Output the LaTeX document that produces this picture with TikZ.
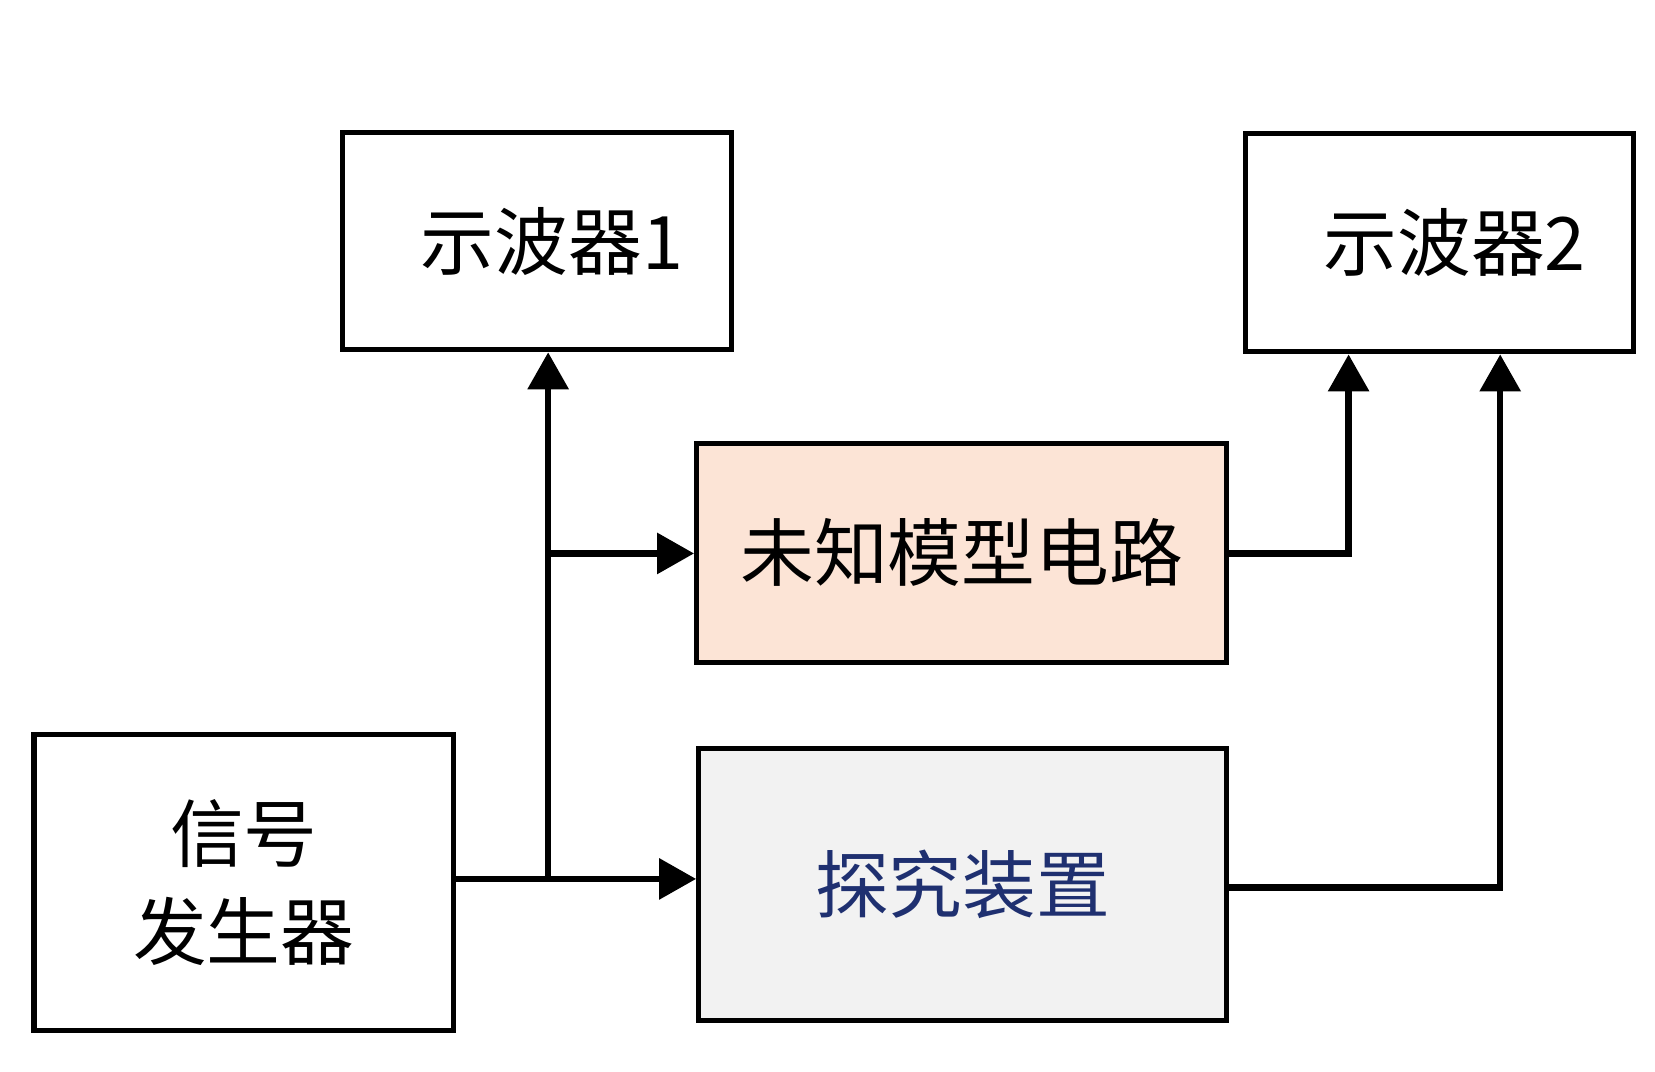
\documentclass[tikz,border=0pt]{standalone}
\usepackage{fontspec}
\newfontfamily\cjk{Noto Sans CJK SC}
\usetikzlibrary{arrows.meta}
\definecolor{peach}{HTML}{FCE4D6}
\definecolor{lgray}{HTML}{F2F2F2}
\definecolor{dblue}{HTML}{1F3070}
\begin{document}
\begin{tikzpicture}[x=0.0106cm,y=-0.0106cm,
  box/.style={draw=black,line width=1.5pt,inner sep=0pt,font=\cjk\fontsize{21}{28}\selectfont,align=center},
  con/.style={line width=1.8pt},
  arr/.style={con,-{Triangle[length=0.37cm,width=0.4cm]}}]
\useasboundingbox (0,0) rectangle (1561,1011);
\node[box,minimum width=3.89cm,minimum height=2.17cm] (o1) at (506.5,227.5) {\hspace*{0.3cm}示波器1};
\node[box,minimum width=3.88cm,minimum height=2.18cm] (o2) at (1358,229) {\hspace*{0.3cm}示波器2};
\node[box,fill=peach,minimum width=5.3cm,minimum height=2.19cm] (u) at (907,521.5) {未知模型电路};
\node[box,fill=lgray,text=dblue,minimum width=5.28cm,minimum height=2.72cm] (t) at (908,834.5) {探究装置};
\node[box,minimum width=4.2cm,minimum height=2.96cm] (s) at (230,832.5) {信号\\发生器};
\coordinate (j) at (517,829);
\coordinate (b) at (517,522);
\coordinate (r1) at (1272,522);
\coordinate (r2) at (1415,837);
\draw[arr] (s.east |- j) -- (t.west |- j);
\draw[arr] (j) -- (o1.south -| j);
\draw[arr] (b) -- (u.west |- b);
\draw[arr] (u.east |- r1) -- (r1) -- (o2.south -| r1);
\draw[arr] (t.east |- r2) -- (r2) -- (o2.south -| r2);
\end{tikzpicture}
\end{document}
